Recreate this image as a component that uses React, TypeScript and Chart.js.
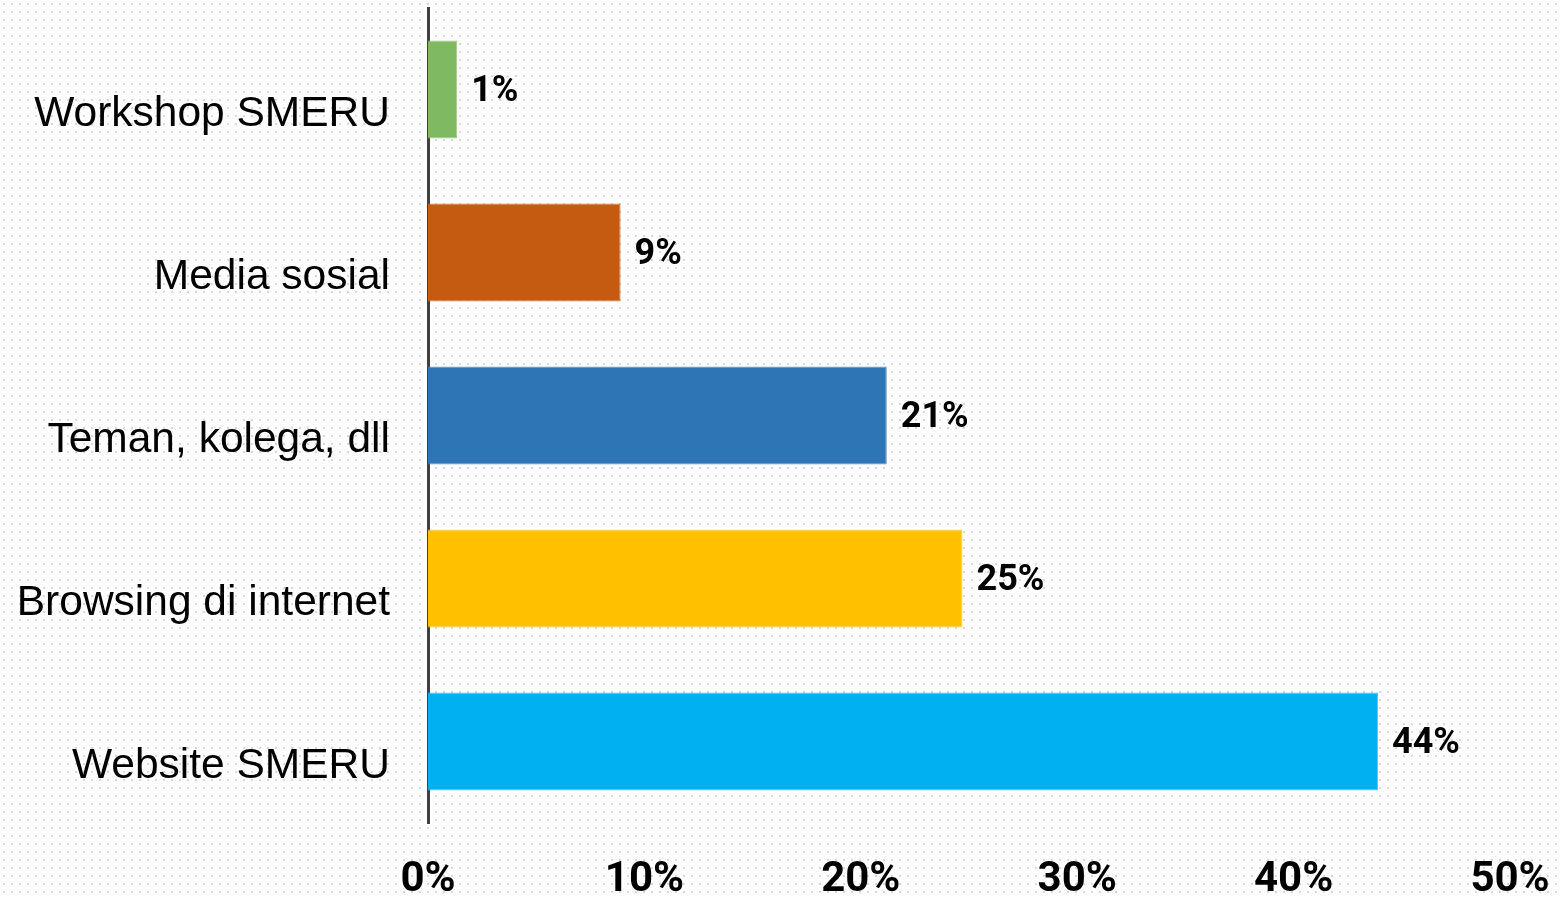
import { useEffect, useRef } from 'react';
import { Chart, registerables, Plugin } from 'chart.js';

Chart.register(...registerables);

const categories = ['Workshop SMERU', 'Media sosial', 'Teman, kolega, dll', 'Browsing di internet', 'Website SMERU'];
const values = [1.35, 8.9, 21.2, 24.7, 43.9];
const valueLabels = ['1%', '9%', '21%', '25%', '44%'];
const barColors = ['#7FBA62', '#C55A11', '#2E75B6', '#FFC000', '#00B0F0'];
const barBorders = ['#9CCB84', '#D77A3E', '#5792C7', '#FFD04D', '#4DC8F5'];

// draws the percentage next to each bar end
const valueLabelPlugin: Plugin<'bar'> = {
  id: 'valueLabels',
  afterDatasetsDraw(chart) {
    const ctx = chart.ctx;
    const meta = chart.getDatasetMeta(0);
    ctx.save();
    ctx.font = 'bold 36px Roboto';
    ctx.fillStyle = '#000';
    ctx.textAlign = 'left';
    ctx.textBaseline = 'middle';
    meta.data.forEach((bar, i) => {
      ctx.fillText(valueLabels[i], bar.x + 14, bar.y + 2);
    });
    ctx.restore();
  },
};

export default function App() {
  const canvasRef = useRef<HTMLCanvasElement>(null);
  const chartRef = useRef<Chart | null>(null);

  useEffect(() => {
    if (!canvasRef.current) return;
    const ctx = canvasRef.current.getContext('2d');
    if (!ctx) return;
    if (chartRef.current) chartRef.current.destroy();

    chartRef.current = new Chart(ctx, {
      type: 'bar',
      data: {
        labels: categories,
        datasets: [
          {
            data: values,
            backgroundColor: barColors,
            borderColor: barBorders,
            borderWidth: 1,
            categoryPercentage: 1,
            barPercentage: 0.6,
          },
        ],
      },
      options: {
        indexAxis: 'y',
        animation: false,
        responsive: true,
        maintainAspectRatio: false,
        layout: { padding: { top: 8, right: 50, left: 0, bottom: 0 } },
        plugins: {
          legend: { display: false },
          tooltip: { enabled: false },
        },
        scales: {
          x: {
            min: 0,
            max: 50,
            grid: { display: false, drawTicks: false },
            border: { display: false },
            ticks: {
              stepSize: 10,
              padding: 32,
              color: '#000',
              font: { family: 'Roboto', size: 42, weight: 'bold' },
              callback: (v) => `${v}%`,
            },
            afterFit: (scale: any) => {
              scale.height = 74;
              scale.paddingLeft = 0;
              scale.paddingRight = 0;
            },
          },
          y: {
            grid: { display: false, drawTicks: false },
            border: { display: true, color: '#404040', width: 3 },
            ticks: {
              padding: 38,
              labelOffset: 25,
              color: '#000',
              font: { family: '"Liberation Sans", Arial, sans-serif', size: 42.5 },
            },
            afterFit: (scale: any) => {
              scale.width = 428;
              scale.paddingTop = 0;
              scale.paddingBottom = 0;
            },
          },
        },
      },
      plugins: [valueLabelPlugin],
    });

    return () => {
      if (chartRef.current) {
        chartRef.current.destroy();
        chartRef.current = null;
      }
    };
  }, []);

  return (
    <div
      style={{
        position: 'fixed',
        left: 0,
        top: 0,
        width: 1560,
        height: 897,
        background: '#fff',
        backgroundImage: 'radial-gradient(circle, #d9d9d9 1px, transparent 1.3px)',
        backgroundSize: '8px 8px',
      }}
    >
      <canvas ref={canvasRef} />
    </div>
  );
}
